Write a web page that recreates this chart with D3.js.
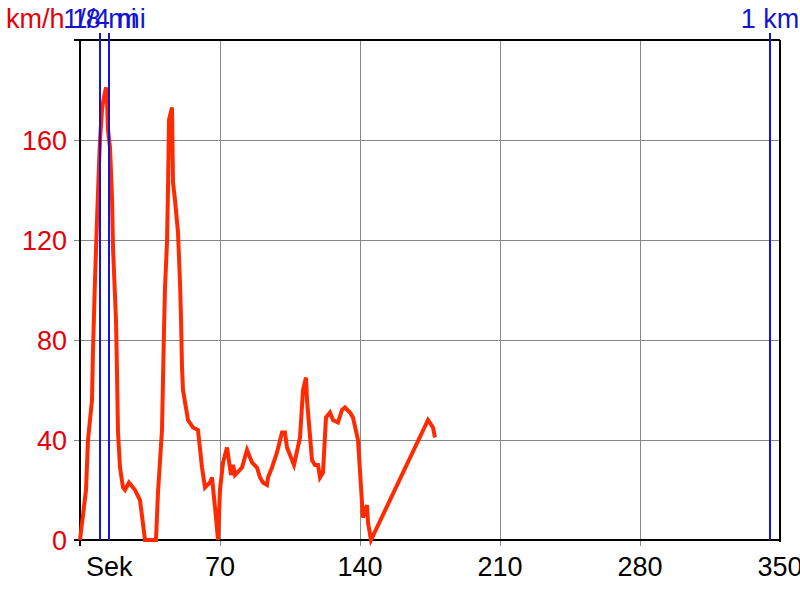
<!DOCTYPE html>
<html>
<head>
<meta charset="utf-8">
<script src="https://cdn.jsdelivr.net/npm/d3@7"></script>
<style>
  html, body { margin: 0; padding: 0; background: #fff; }
  svg { display: block; }
  text { font-family: "Liberation Sans", Arial, sans-serif; }
</style>
</head>
<body>
<svg id="chart" width="800" height="600"></svg>
<script>
// ---- data ----
const timeSec = [0, 3, 4, 6, 6.5, 7.5, 8.5, 9.5, 10, 11, 11.5, 13, 13.5, 14, 15, 16, 16.5, 18, 18.3, 19, 20, 21.5, 22.5, 24.5, 27.5, 30, 32.5, 38, 39, 41, 42, 42.5, 43.5, 44, 44.5, 46, 46.5, 47.5, 49, 50, 50.5, 51, 51.5, 54, 56.5, 59, 61, 62.5, 65, 66, 66.5, 68, 69, 70, 71.5, 73.5, 75.5, 76.5, 77.5, 81, 83.5, 86, 88.5, 90, 91.5, 93.5, 94, 96, 98.5, 101, 102.5, 103.5, 107, 110, 111.5, 113, 113.5, 116, 117.5, 119, 120, 121.5, 123, 125, 126.5, 129, 131, 132.5, 135, 136.5, 139, 141, 141.5, 143.5, 144, 145.5, 174, 176.5, 177.5];
const speedKmh = [0, 20, 40, 56, 76, 104, 128, 150, 160, 172, 175, 181, 176, 164, 157, 137, 117, 88, 76, 43, 29, 21, 20, 23, 20, 16, 0, 0, 19, 44, 84, 101, 119, 140, 168, 173, 143, 136, 123, 103, 89, 69, 60, 48, 45, 44, 29, 21, 23, 25, 21, 9, 0, 20, 31, 37, 26, 30, 26, 29, 36, 31, 29, 25, 23, 22, 25, 29, 35, 43, 43, 37, 30, 41, 60, 65, 56, 32, 30, 30, 25, 27, 49, 51, 48, 47, 52, 53, 51, 49, 40, 15, 9, 14, 7, 0, 48, 45, 41];
const xTicks = [70, 140, 210, 280, 350];
const yTicks = [40, 80, 120, 160];
const markerLabels = ["1/8 mi", "1/4 mi", "1 km"];
const markerTimes = [10, 14.5, 345];
const xStartLabel = "Sek";
const yTitle = "km/h";

// ---- chart ----
const svg = d3.select("#chart");
const x = d3.scaleLinear().domain([0, 350]).range([80, 780]);
const y = d3.scaleLinear().domain([0, 200]).range([540, 40]);
const FS = 27;
const red = "#e6000a";
const blue = "#1414d2";

// grid
svg.append("g").selectAll("line").data(yTicks).join("line")
  .attr("x1", x(0) - 6).attr("x2", x(350))
  .attr("y1", d => y(d)).attr("y2", d => y(d))
  .attr("stroke", "#888").attr("stroke-width", 1).attr("shape-rendering", "crispEdges");
svg.append("g").selectAll("line").data(xTicks.slice(0, -1)).join("line")
  .attr("x1", d => x(d)).attr("x2", d => x(d))
  .attr("y1", y(200)).attr("y2", y(0) + 6)
  .attr("stroke", "#888").attr("stroke-width", 1).attr("shape-rendering", "crispEdges");

// frame
const frame = svg.append("g").attr("stroke", "#000").attr("stroke-width", 2).attr("shape-rendering", "crispEdges");
frame.append("line").attr("x1", x(0) - 6).attr("x2", x(350)).attr("y1", y(200)).attr("y2", y(200));
frame.append("line").attr("x1", x(0) - 6).attr("x2", x(350)).attr("y1", y(0)).attr("y2", y(0));
frame.append("line").attr("x1", x(0)).attr("x2", x(0)).attr("y1", y(200)).attr("y2", y(0) + 6);
frame.append("line").attr("x1", x(350)).attr("x2", x(350)).attr("y1", y(200)).attr("y2", y(0) + 2);

// speed line
const pts = timeSec.map((t, i) => [t, speedKmh[i]]);
svg.append("path")
  .datum(pts)
  .attr("fill", "none")
  .attr("stroke", "#ff2a00")
  .attr("stroke-width", 4)
  .attr("stroke-linejoin", "miter")
  .attr("d", d3.line().x(d => x(d[0])).y(d => y(d[1])));

// distance markers
svg.append("g").selectAll("line").data(markerTimes).join("line")
  .attr("x1", d => x(d)).attr("x2", d => x(d))
  .attr("y1", y(200) - 7).attr("y2", y(0))
  .attr("stroke", blue).attr("stroke-width", 2);
svg.append("g").selectAll("text").data(markerLabels).join("text")
  .attr("x", (d, i) => x(markerTimes[i]))
  .attr("y", 28)
  .attr("text-anchor", "middle")
  .attr("font-size", FS)
  .attr("fill", blue)
  .text(d => d);

// y title
svg.append("text").attr("x", 6).attr("y", 28).attr("font-size", FS).attr("fill", red).text(yTitle);

// y tick labels
svg.append("g").selectAll("text").data([0].concat(yTicks)).join("text")
  .attr("x", 67).attr("y", d => y(d)).attr("dy", "0.36em")
  .attr("text-anchor", "end").attr("font-size", FS).attr("fill", red)
  .text(d => d);

// x tick labels
svg.append("g").selectAll("text").data(xTicks).join("text")
  .attr("x", d => x(d)).attr("y", 576)
  .attr("text-anchor", "middle").attr("font-size", FS).attr("fill", "#000")
  .text(d => d);
svg.append("text").attr("x", 86).attr("y", 576).attr("font-size", FS).attr("fill", "#000").text(xStartLabel);
</script>
</body>
</html>
